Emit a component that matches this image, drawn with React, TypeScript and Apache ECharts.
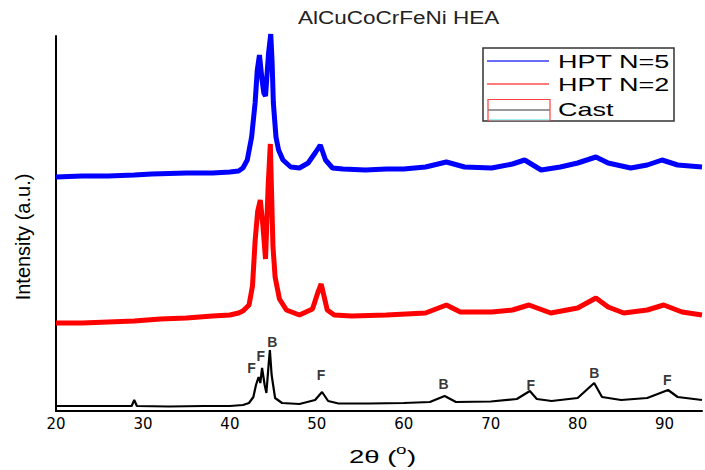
import React, { useEffect, useRef } from 'react';
import * as echarts from 'echarts';

const chartTitle = 'AlCuCoCrFeNi HEA';
const yAxisTitle = 'Intensity (a.u.)';
const seriesNames = ['HPT N=5', 'HPT N=2', 'Cast'];
const seriesColors = ['#0000ff', '#ff0000', '#000000'];
const xMin = 20;
const xMax = 94.3;
const xStep = 10;
const yMin = 0;
const yMax = 375;

// HPT N=5 (offset trace, arbitrary units)
const hpt5: [number, number][] = [
  [20, 234], [23, 235], [26, 235], [29, 236], [31, 237], [35, 238], [38, 238], [40, 239],
  [41, 240], [41.5, 243], [42, 251], [42.5, 274], [42.9, 308], [43.15, 341], [43.4, 356],
  [43.7, 331], [43.9, 318], [44.1, 315], [44.3, 340], [44.45, 358], [44.7, 377], [44.85, 350],
  [45.0, 308], [45.3, 274], [45.6, 261], [46.1, 251], [47, 244], [48, 243], [49, 248],
  [49.8, 258], [50.4, 266], [51, 251], [51.8, 243], [53, 242], [55.6, 241], [58, 242],
  [60, 242], [62.5, 244], [64.9, 249], [67, 244], [70.1, 243], [72.5, 247], [73.9, 251],
  [75.8, 241], [78, 244], [80, 248], [82.1, 254], [83.5, 248], [86.1, 243], [88, 246],
  [89.7, 251], [91.5, 246], [94.3, 244],
];

// HPT N=2
const hpt2: [number, number][] = [
  [20, 88], [23, 88], [26, 89], [29, 90], [32, 92], [35, 93], [38, 95], [40, 96], [41, 98],
  [41.5, 100], [42.2, 106], [42.6, 125], [42.9, 170], [43.2, 200], [43.5, 211], [43.8, 185],
  [44.1, 152], [44.4, 225], [44.65, 267], [44.95, 165], [45.2, 134], [45.7, 112], [46.5, 101],
  [48, 96], [49.5, 102], [50.1, 118], [50.5, 127], [51.2, 101], [52, 96], [54, 95], [58, 96],
  [62.5, 98], [64.9, 106], [66.5, 99], [70.1, 99], [72.5, 101], [74.4, 106], [76.9, 98],
  [80, 103], [82.1, 113], [83.5, 104], [85.3, 98], [88, 101], [89.9, 106], [92, 99], [94.3, 96],
];

// Cast
const cast: [number, number][] = [
  [20, 5], [25, 5], [28.7, 5], [29.0, 11], [29.3, 5], [33, 4.5], [37, 5], [40, 5], [41.5, 6],
  [42.2, 8], [42.7, 14], [43.0, 26], [43.3, 34], [43.5, 28], [43.7, 43], [44.0, 26], [44.2, 18],
  [44.45, 46], [44.6, 61], [44.8, 36], [45.2, 13], [46, 8], [48, 7], [49.8, 11], [50.6, 19],
  [51.3, 10], [52.5, 7.5], [56, 7.5], [60, 8], [63, 9], [64.7, 15], [66, 9], [70, 9.5], [73, 12],
  [74.5, 20], [75.3, 12], [77, 10], [80, 13], [81.9, 28], [82.8, 14], [85, 11], [88, 13],
  [90.4, 21], [91.5, 14], [94.3, 11],
];

// Phase labels on the cast pattern
const peakLabels = ['F', 'F', 'B', 'F', 'B', 'F', 'B', 'F'];
const peakX = [42.5, 43.55, 44.88, 50.48, 64.57, 74.6, 81.9, 90.3];
const peakY = [43, 55, 69, 36, 27, 26, 38, 31];

const FONT = "'Liberation Sans', Arial, sans-serif";

export default function App() {
  const ref = useRef<HTMLDivElement>(null);
  useEffect(() => {
    document.body.style.margin = '0';
    if (!ref.current) return;
    const chart = echarts.init(ref.current, undefined, { renderer: 'svg' });
    const textStretch = 1.42;
    chart.setOption({
      animation: false,
      backgroundColor: '#ffffff',
      grid: { left: 56, right: 0, top: 36, bottom: 59 },
      xAxis: {
        type: 'value',
        min: xMin,
        max: xMax,
        interval: xStep,
        axisLine: { show: true, lineStyle: { color: '#000', width: 2 } },
        axisTick: { show: false },
        splitLine: { show: false },
        axisLabel: {
          color: '#000',
          fontSize: 15,
          fontFamily: "'DejaVu Sans', sans-serif",
          margin: 5,
          formatter: (v: number) => (Math.abs(v % 10) < 1e-6 ? String(v) : ''),
        },
      },
      yAxis: {
        type: 'value',
        min: yMin,
        max: yMax,
        axisLine: { show: true, lineStyle: { color: '#000', width: 2 } },
        axisTick: { show: false },
        axisLabel: { show: false },
        splitLine: { show: false },
      },
      series: [
        {
          name: seriesNames[2],
          type: 'line',
          data: cast,
          showSymbol: false,
          clip: false,
          lineStyle: { color: seriesColors[2], width: 2.2 },
          z: 3,
        },
        {
          name: seriesNames[1],
          type: 'line',
          data: hpt2,
          showSymbol: false,
          clip: false,
          lineStyle: { color: seriesColors[1], width: 5 },
          z: 2,
        },
        {
          name: seriesNames[0],
          type: 'line',
          data: hpt5,
          showSymbol: false,
          clip: false,
          lineStyle: { color: seriesColors[0], width: 5 },
          z: 2,
        },
        {
          type: 'scatter',
          data: peakLabels.map((t, i) => ({ name: t, value: [peakX[i], peakY[i]] })),
          symbolSize: 1,
          itemStyle: { color: 'rgba(0,0,0,0)' },
          label: {
            show: true,
            position: 'inside',
            formatter: '{b}',
            color: '#000',
            fontWeight: 'bold',
            fontSize: 14,
            fontFamily: "'Liberation Sans', Arial, sans-serif",
          },
          z: 5,
        },
      ],
      graphic: [
        {
          type: 'text',
          x: 298,
          y: 18,
          scaleX: 1.25,
          style: { text: chartTitle, fontSize: 18, fontFamily: FONT, fill: '#222', align: 'left', verticalAlign: 'middle' },
        },
        {
          type: 'text',
          x: 23,
          y: 237,
          rotation: Math.PI / 2,
          style: { text: yAxisTitle, fontSize: 20, fontFamily: FONT, fill: '#000', align: 'center', verticalAlign: 'middle' },
        },
        {
          type: 'text',
          x: 349,
          y: 457,
          scaleX: 1.45,
          style: { text: '2θ (', fontSize: 19, fontFamily: FONT, fill: '#000', align: 'left', verticalAlign: 'middle' },
        },
        {
          type: 'text',
          x: 396,
          y: 449,
          scaleX: 1.45,
          style: { text: 'o', fontSize: 13, fontFamily: FONT, fill: '#000', align: 'left', verticalAlign: 'middle' },
        },
        {
          type: 'text',
          x: 407,
          y: 457,
          scaleX: 1.45,
          style: { text: ')', fontSize: 19, fontFamily: FONT, fill: '#000', align: 'left', verticalAlign: 'middle' },
        },
        {
          type: 'group',
          z: 10,
          children: [
            { type: 'rect', shape: { x: 483, y: 48, width: 191, height: 73 }, style: { fill: '#fff', stroke: '#333', lineWidth: 1.5 } },
            { type: 'line', shape: { x1: 487, y1: 61, x2: 549, y2: 61 }, style: { stroke: '#3b3bff', lineWidth: 1.5 } },
            { type: 'line', shape: { x1: 487, y1: 84, x2: 549, y2: 84 }, style: { stroke: '#ff5050', lineWidth: 1.5 } },
            { type: 'rect', shape: { x: 488, y: 99.5, width: 62, height: 21 }, style: { fill: 'none', stroke: '#ff4040', lineWidth: 1.2 } },
            { type: 'line', shape: { x1: 488, y1: 110, x2: 550, y2: 110 }, style: { stroke: '#777', lineWidth: 1.5 } },
            { type: 'line', shape: { x1: 489, y1: 120, x2: 549, y2: 120 }, style: { stroke: '#40e0f0', lineWidth: 1 } },
            {
              type: 'text', x: 558, y: 61, scaleX: textStretch,
              style: { text: seriesNames[0], fontSize: 19, fontFamily: FONT, fill: '#000', align: 'left', verticalAlign: 'middle' },
            },
            {
              type: 'text', x: 558, y: 84, scaleX: textStretch,
              style: { text: seriesNames[1], fontSize: 19, fontFamily: FONT, fill: '#000', align: 'left', verticalAlign: 'middle' },
            },
            {
              type: 'text', x: 558, y: 109.5, scaleX: textStretch,
              style: { text: seriesNames[2], fontSize: 19, fontFamily: FONT, fill: '#000', align: 'left', verticalAlign: 'middle' },
            },
          ],
        },
      ],
    });
    return () => chart.dispose();
  }, []);
  return <div ref={ref} style={{ width: 705, height: 470 }} />;
}
